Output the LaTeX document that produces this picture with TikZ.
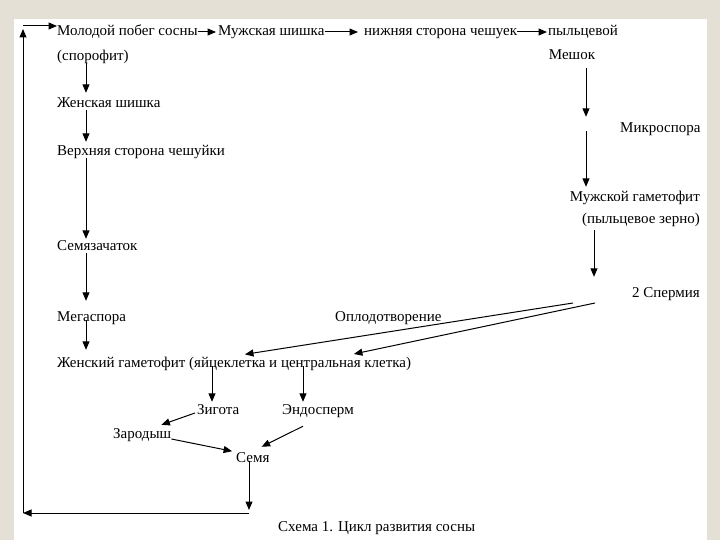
\documentclass[tikz,border=0pt]{standalone}
\usepackage{fontspec}
\setmainfont{Liberation Serif}
\usetikzlibrary{arrows.meta,calc}
\definecolor{bgbeige}{RGB}{229,224,214}
\begin{document}
\begin{tikzpicture}[x=1pt,y=-1pt,
  lbl/.style={inner sep=0pt, font=\fontsize{15}{18}\selectfont, text height=12pt, text depth=2pt},
  arr/.style={-{Triangle[length=8.5pt,width=7pt]}, line width=1pt},
  ln/.style={line width=1pt}]
\useasboundingbox (0,0) rectangle (720,540);
\fill[bgbeige] (0,0) rectangle (720,540);
\fill[white] (14,19) rectangle (707,540);

% nodes
\node[lbl,anchor=west] (mol) at (57,31) {Молодой побег сосны};
\node[lbl,anchor=west] (spor) at (57,56) {(спорофит)};
\node[lbl,anchor=west] (mush) at (218,31) {Мужская шишка};
\node[lbl,anchor=west] (nizh) at (364,31) {нижняя сторона чешуек};
\node[lbl,anchor=west] (pyl) at (548,31) {пыльцевой};
\node[lbl] (mesh) at (572,55) {Мешок};
\node[lbl,anchor=west] (mikro) at (620,128) {Микроспора};
\node[lbl,anchor=east] (mg1) at (700,197) {Мужской гаметофит};
\node[lbl,anchor=east] (mg2) at (700,219) {(пыльцевое зерно)};
\node[lbl,anchor=east] (sperm) at (700,292) {2 Спермия};
\node[lbl,anchor=west] (zhsh) at (57,103) {Женская шишка};
\node[lbl,anchor=west] (verh) at (57,151) {Верхняя сторона чешуйки};
\node[lbl,anchor=west] (semz) at (57,246) {Семязачаток};
\node[lbl,anchor=west] (mega) at (57,316) {Мегаспора};
\node[lbl,anchor=west] (oplod) at (335,316) {Оплодотворение};
\node[lbl,anchor=west] (zhg) at (57,362) {Женский гаметофит (яйцеклетка и центральная клетка)};
\node[lbl,anchor=west] (zig) at (197,409) {Зигота};
\node[lbl,anchor=west] (endo) at (282,409) {Эндосперм};
\node[lbl,anchor=west] (zar) at (113,433) {Зародыш};
\node[lbl,anchor=west] (semya) at (236,457) {Семя};
\node[lbl,anchor=west] (cap) at (278,526) {Схема 1. Цикл развития сосны};

% helper coordinates
\coordinate (row) at (0,32);
\coordinate (cL) at (86,0);
\coordinate (cR) at (586,0);
\coordinate (cR2) at (594,0);
\coordinate (cZ) at (212,0);
\coordinate (cE) at (303,0);
\coordinate (cS) at (249,0);
\coordinate (loopB) at (23,513);
\coordinate (loopT) at (23,29);
\coordinate (loopH) at (23,26);
\coordinate (s1) at (573,303);
\coordinate (s2) at (595,303);
\coordinate (e1) at (242,0);
\coordinate (e2) at (350,0);

% top row
\draw[arr,shorten >=2pt] (mol.east |- row) -- (mush.west |- row);
\draw[arr,shorten >=6pt] (mush.east |- row) -- (nizh.west |- row);
\draw[arr,shorten >=1pt] (nizh.east |- row) -- (pyl.west |- row);

% left column
\draw[arr,shorten >=3pt] (spor.south -| cL) -- (zhsh.north -| cL);
\draw[arr,shorten >=2pt] (zhsh.south -| cL) -- (verh.north -| cL);
\draw[arr] (verh.south -| cL) -- (semz.north -| cL);
\draw[arr,shorten >=8pt] (semz.south -| cL) -- (mega.north -| cL);
\draw[arr,shorten <=-3pt,shorten >=5pt] (mega.south -| cL) -- (zhg.north -| cL);

% right column
\draw[arr,shorten <=6pt,shorten >=4pt] (mesh.south -| cR) -- (mikro.north -| cR);
\draw[arr,shorten <=-4pt,shorten >=3pt] (mikro.south -| cR) -- (mg1.north -| cR);
\draw[arr,shorten <=4pt,shorten >=8pt] (mg2.south -| cR2) -- (sperm.north -| cR2);

% fertilisation
\draw[arr,shorten >=3pt] (s1) -- (zhg.north -| e1);
\draw[arr,shorten >=4pt] (s2) -- (zhg.north -| e2);

% lower part
\draw[arr,shorten <=-3pt] (zhg.south -| cZ) -- (zig.north -| cZ);
\draw[arr,shorten <=-3pt] (zhg.south -| cE) -- (endo.north -| cE);
\draw[arr] ($(zig.west)+(-2,4)$) -- ($(zar.north east)+(-10,-1)$);
\draw[arr,shorten >=4pt] ($(zar.east)+(0,6)$) -- ($(semya.west)+(0,-5)$);
\draw[arr] ($(endo.south -| cE)+(0,10)$) -- ($(semya.north east)+(-8,-3)$);

% feedback loop
\draw[arr,shorten <=-3pt,shorten >=3pt] (semya.south -| cS) -- (cS |- loopB);
\draw[arr] (cS |- loopB) -- (loopB);
\draw[arr] (loopB) -- (loopT);
\draw[arr] (loopH) -- (mol.west |- loopH);
\end{tikzpicture}
\end{document}
